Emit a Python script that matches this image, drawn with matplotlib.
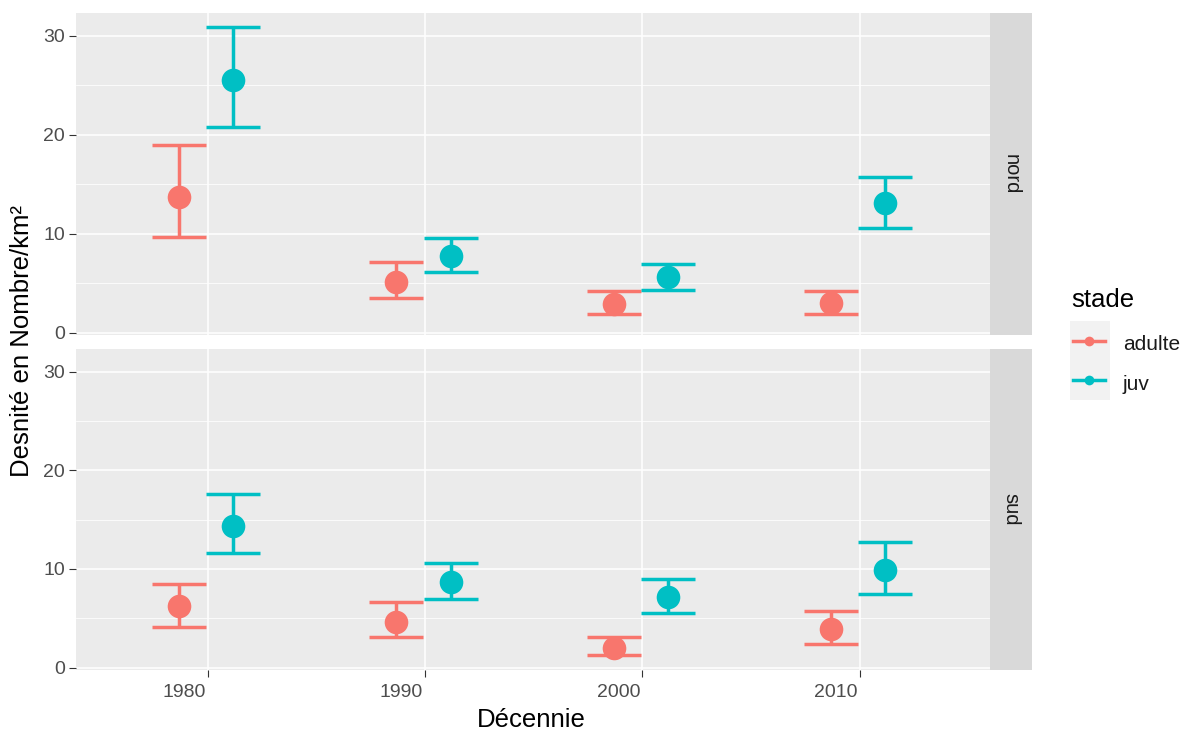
import numpy as np
import matplotlib.pyplot as plt
from matplotlib.lines import Line2D
from matplotlib.transforms import ScaledTranslation

plt.rcParams['font.family'] = ['Liberation Sans', 'DejaVu Sans']

# densités moyennes et intervalles par décennie
decennies = np.array([1980, 1990, 2000, 2010])

nord_adulte = [13.75, 5.1, 2.9, 2.95]
nord_adulte_bas = [9.7, 3.44, 1.87, 1.87]
nord_adulte_haut = [19.0, 7.12, 4.15, 4.15]
nord_juv = [25.5, 7.69, 5.6, 13.14]
nord_juv_bas = [20.8, 6.1, 4.3, 10.6]
nord_juv_haut = [30.9, 9.6, 6.95, 15.7]

sud_adulte = [6.22, 4.65, 2.02, 3.87]
sud_adulte_bas = [4.1, 3.06, 1.31, 2.35]
sud_adulte_haut = [8.48, 6.6, 3.06, 5.76]
sud_juv = [14.4, 8.72, 7.13, 9.93]
sud_juv_bas = [11.6, 6.9, 5.52, 7.43]
sud_juv_haut = [17.6, 10.6, 9.02, 12.69]

stades = ['adulte', 'juv']
zones = ['nord', 'sud']
couleurs = {'adulte': '#F8766D', 'juv': '#00BFC4'}
decalage = {'adulte': -1.32, 'juv': 1.18}

donnees = {
    'nord': {'adulte': (nord_adulte, nord_adulte_bas, nord_adulte_haut),
             'juv': (nord_juv, nord_juv_bas, nord_juv_haut)},
    'sud': {'adulte': (sud_adulte, sud_adulte_bas, sud_adulte_haut),
            'juv': (sud_juv, sud_juv_bas, sud_juv_haut)},
}

W, H = 1185, 733
fig = plt.figure(figsize=(W / 100, H / 100), dpi=100)

# panneaux (en pixels: gauche, haut, droite, bas)
cadres = [(76, 13, 990, 335), (76, 349, 990, 670)]
axes = []
for (x0, y0, x1, y1), zone in zip(cadres, zones):
    ax = fig.add_axes([x0 / W, 1 - y1 / H, (x1 - x0) / W, (y1 - y0) / H])
    ax.set_facecolor('#EBEBEB')
    for s in ax.spines.values():
        s.set_visible(False)
    ax.set_xlim(1973.95, 2016.0)
    ax.set_ylim(-0.25, 32.3)
    ax.set_yticks([0, 10, 20, 30])
    ax.set_yticks([5, 15, 25], minor=True)
    ax.set_xticks(decennies)
    ax.grid(True, which='major', color='white', lw=1.1)
    ax.grid(True, which='minor', axis='y', color='white', lw=0.55)
    ax.set_axisbelow(True)
    ax.tick_params(axis='both', which='major', length=5, width=0.8, color='#333333',
                   labelsize=14, labelcolor='#4D4D4D', pad=3)
    ax.tick_params(axis='x', pad=5)
    ax.tick_params(which='minor', length=0)

    for st in stades:
        moy, bas, haut = donnees[zone][st]
        moy = np.array(moy)
        x = decennies + decalage[st]
        ax.errorbar(x, moy, yerr=[moy - np.array(bas), np.array(haut) - moy],
                    fmt='none', ecolor=couleurs[st], elinewidth=2.5,
                    capsize=19.5, capthick=2.5, zorder=3)
        ax.plot(x, moy, 'o', ms=17, color=couleurs[st], mec='none', zorder=4)

    # bandeau de facette à droite
    sx = fig.add_axes([x1 / W, 1 - y1 / H, 42 / W, (y1 - y0) / H])
    sx.set_facecolor('#D9D9D9')
    sx.set_xticks([])
    sx.set_yticks([])
    for s in sx.spines.values():
        s.set_visible(False)
    sx.text(0.5, 0.5, zone, rotation=-90, ha='center', va='center',
            fontsize=14.5, color='#1A1A1A', transform=sx.transAxes)
    axes.append(ax)

axes[0].tick_params(axis='x', length=0, labelbottom=False)
axes[1].set_xticklabels([str(d) for d in decennies])
# étiquettes de l'axe x alignées à droite sur la graduation
decal = ScaledTranslation(-2 / 100, 0, fig.dpi_scale_trans)
for lab in axes[1].get_xticklabels():
    lab.set_ha('right')
    lab.set_transform(lab.get_transform() + decal)

fig.text(531 / W, 1 - 720 / H, 'Décennie', ha='center', va='center', fontsize=18.5)
fig.text(22 / W, 1 - 341 / H, 'Desnité en Nombre/km²', rotation=90,
         ha='center', va='center', fontsize=18.5)

# légende
fig.text(1071 / W, 1 - 300 / H, 'stade', ha='left', va='center', fontsize=18.5)
lg = fig.add_axes([1070 / W, 1 - 400 / H, 40 / W, 79 / H])
lg.set_facecolor('#F2F2F2')
lg.set_xlim(0, 1)
lg.set_ylim(0, 2)
lg.set_xticks([])
lg.set_yticks([])
for s in lg.spines.values():
    s.set_visible(False)
for i, st in enumerate(stades):
    yk = 1.5 - i
    lg.add_line(Line2D([0.08, 0.88], [yk, yk], color=couleurs[st], lw=2.5))
    lg.plot([0.48], [yk], 'o', ms=7, color=couleurs[st], mec='none')
    fig.text(1123 / W, 1 - (345 + 40 * i) / H, st, ha='left', va='center',
             fontsize=15, color='#1A1A1A')

fig.savefig('out.png', dpi=100)
